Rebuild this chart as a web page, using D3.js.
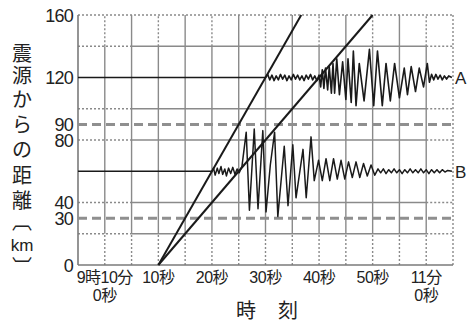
<!DOCTYPE html>
<html>
<head>
<meta charset="utf-8">
<script src="https://cdn.jsdelivr.net/npm/d3@7"></script>
<style>
  html, body { margin: 0; padding: 0; background: #fff; }
  svg { display: block; }
</style>
</head>
<body>
<svg id="chart" width="469" height="324"></svg>
<script>
// time in seconds after 9:10:00, distance in km
const xTicks = [0, 10, 20, 30, 40, 50, 60];
const xTickLabels = [['9時10分', '0秒'], ['10秒'], ['20秒'], ['30秒'], ['40秒'], ['50秒'], ['11分', '0秒']];
const yTicks = [0, 30, 40, 80, 90, 120, 160];
const xGrid = [0, 5, 10, 15, 20, 25, 30, 35, 40, 45, 50, 55, 60];
const yGrid = [20, 40, 80, 100, 140];
const yDashed = [30, 90];

const titleChars = ['震', '源', 'か', 'ら', 'の', '距', '離', '︹', 'km', '︺'];

// travel time lines (P ~6 km/s, S ~4 km/s, origin at 10 s)
const pLine = [[10, 0], [36.67, 160]];
const sLine = [[10, 0], [50, 160]];

// seismograms: [time, offset in km from the station line]
const stationA = 120;
const traceA = [
  [-5, 0], [30, 0],
  [30.4, 2], [30.8, -1.5], [31.2, 1.5], [31.6, -2], [32, 1], [32.4, -1.5], [32.8, 2], [33.2, -1],
  [33.6, 1.5], [34, -2], [34.4, 1], [34.8, -1.5], [35.2, 2], [35.6, -1], [36, 1.5], [36.4, -1.5],
  [36.8, 1], [37.2, -2], [37.6, 1.5], [38, -1], [38.4, 2], [38.8, -1.5], [39.2, 1], [39.6, -2], [40, 1.5],
  [40.3, -6], [40.6, 5], [40.9, -7], [41.2, 6], [41.6, -8], [41.9, 7], [42.3, -10], [42.6, 9],
  [42.9, -10], [43.3, 12], [43.8, -11],
  [44.4, 10], [45.0, -14], [45.4, 12], [46.0, -16], [46.4, 17], [46.9, -18], [47.5, 9], [48.4, -15],
  [49.4, 18], [50.2, -18], [50.9, 17], [51.8, -18], [52.5, 9], [53.3, -15], [54.1, 9], [55.0, -13],
  [55.9, 6], [56.5, -11], [57.2, 7], [58.0, -9], [58.7, 6], [59.5, -6], [60.2, 9], [60.6, -3],
  [61.0, 2], [61.4, -1.5], [61.8, 2], [62.2, -1], [62.6, 1.5], [63, -1.5], [63.4, 1], [63.8, -1],
  [64.2, 1], [64.8, 0]
];

const stationB = 60;
const traceB = [
  [-5, 0], [20, 0],
  [20.3, 2], [20.6, -2.5], [21, 2], [21.3, -1.5], [21.7, 3], [22, -2], [22.4, 1.5], [22.7, -3],
  [23.1, 2], [23.5, -1.5], [23.9, 2.5], [24.3, -2], [24.7, 1.5], [25.1, -1],
  [25.6, 3], [26.4, 25], [27.0, -25], [27.9, 27], [28.6, -24], [29.5, 26], [30.1, -26], [30.9, 4],
  [31.7, 25], [32.3, -29], [33.5, 16], [34.2, -22], [35.1, 17], [35.7, -17], [37.0, 14], [37.6, -17],
  [38.5, 22], [39.1, -6],
  [39.9, 7], [40.6, -6], [41.3, 8], [42, -6], [42.7, 8], [43.4, -5], [44.1, 7], [44.8, -5],
  [45.5, 6], [46.2, -4], [46.9, 6], [47.6, -4], [48.3, 5], [49, -3], [49.7, 4], [50.4, -2.5],
  [51, 1.5], [51.5, -1], [52, 1.5], [52.5, -1.5], [53, 1], [53.5, -1], [54, 1.5], [54.5, -1],
  [55, 1], [55.5, -1.5], [56, 1], [56.5, -1], [57, 1.5], [57.5, -1], [58, 1], [58.5, -1],
  [59, 1.5], [59.5, -1], [60, 1], [60.5, -1.5], [61, 1], [61.5, -1], [62, 1], [62.5, -1],
  [63, 1], [63.5, -0.5], [64, 0.5], [64.8, 0]
];

const x = d3.scaleLinear().domain([-5, 65]).range([78, 453]);
const y = d3.scaleLinear().domain([0, 160]).range([265, 15]);

const svg = d3.select('#chart');
const FONT = '"Liberation Sans", Arial, "Noto Sans CJK JP", sans-serif';
const JP = '"Noto Sans CJK JP", sans-serif';
const GRID = '#8a8a8a';

const grid = svg.append('g');
const seg = (x1, y1, x2, y2, dotted) => grid.append('line')
  .attr('x1', x(x1)).attr('y1', y(y1)).attr('x2', x(x2)).attr('y2', y(y2))
  .attr('stroke', GRID).attr('stroke-width', 1.4)
  .attr('stroke-dasharray', dotted ? '2,2' : null);

// vertical grid: solid in the middle band, dotted near the edges
xGrid.forEach(t => {
  const half = t % 10 !== 0;
  seg(t, 0, t, 20, true);
  seg(t, 20, t, 140, false);
  seg(t, 140, t, 160, !half);
});
// horizontal grid
yGrid.forEach(d => {
  seg(-5, d, 5, d, true);
  seg(5, d, 60, d, false);
  seg(60, d, 65, d, true);
});
// frame: top and right dotted, left and bottom solid
seg(-5, 160, 65, 160, true);
seg(65, 0, 65, 160, true);
grid.append('line').attr('x1', x(-5)).attr('y1', y(0)).attr('x2', x(-5)).attr('y2', y(160))
  .attr('stroke', '#7a7a7a').attr('stroke-width', 1.6);
grid.append('line').attr('x1', x(-5)).attr('y1', y(0)).attr('x2', x(65)).attr('y2', y(0))
  .attr('stroke', '#7a7a7a').attr('stroke-width', 1.6);

svg.append('g').selectAll('line').data(yDashed).enter().append('line')
  .attr('x1', x(-5)).attr('x2', x(65))
  .attr('y1', d => y(d)).attr('y2', d => y(d))
  .attr('stroke', '#8f8f8f').attr('stroke-width', 3)
  .attr('stroke-dasharray', '9,5');

const line = d3.line().x(d => x(d[0])).y(d => y(d[1]));

svg.append('g').selectAll('path').data([pLine, sLine]).enter().append('path')
  .attr('d', line)
  .attr('fill', 'none').attr('stroke', '#1a1a1a').attr('stroke-width', 2);

const traceLine = base => d3.line().x(d => x(d[0])).y(d => y(base + d[1]));
svg.append('path').attr('d', traceLine(stationA)(traceA))
  .attr('fill', 'none').attr('stroke', '#1a1a1a').attr('stroke-width', 1.6)
  .attr('stroke-linejoin', 'round');
svg.append('path').attr('d', traceLine(stationB)(traceB))
  .attr('fill', 'none').attr('stroke', '#1a1a1a').attr('stroke-width', 1.5)
  .attr('stroke-linejoin', 'round');

svg.append('text').attr('x', 455).attr('y', y(stationA) + 6.5).text('A')
  .attr('font-family', FONT).attr('font-size', 17).attr('fill', '#222');
svg.append('text').attr('x', 455).attr('y', y(stationB) + 6.5).text('B')
  .attr('font-family', FONT).attr('font-size', 17).attr('fill', '#222');

// y tick labels
svg.append('g').selectAll('text').data(yTicks).enter().append('text')
  .attr('x', 73).attr('y', d => y(d) + 6.5)
  .attr('text-anchor', 'end')
  .attr('font-family', FONT).attr('font-size', 18).attr('letter-spacing', -0.8)
  .attr('fill', '#222')
  .text(d => d);

// x tick labels
const xl = svg.append('g').selectAll('text').data(xTicks).enter().append('text')
  .attr('text-anchor', 'middle')
  .attr('font-family', FONT).attr('font-size', 16).attr('letter-spacing', -0.5)
  .attr('fill', '#222');
xl.each(function (d, i) {
  const el = d3.select(this);
  xTickLabels[i].forEach((s, k) => {
    el.append('tspan').attr('x', x(d)).attr('y', 283 + k * 18).text(s);
  });
});

// axis titles
svg.append('text').attr('x', 246).attr('y', 318).attr('text-anchor', 'middle')
  .attr('font-family', JP).attr('font-size', 20).attr('fill', '#222').text('時');
svg.append('text').attr('x', 288).attr('y', 318).attr('text-anchor', 'middle')
  .attr('font-family', JP).attr('font-size', 20).attr('fill', '#222').text('刻');

const titleY = [52, 74, 98, 123, 148, 174, 199, 220, 245, 266];
svg.append('g').selectAll('text').data(titleChars).enter().append('text')
  .attr('x', 22).attr('y', (d, i) => titleY[i])
  .attr('text-anchor', 'middle').attr('dominant-baseline', 'central')
  .attr('font-family', (d) => d === 'km' ? FONT : JP)
  .attr('font-size', (d) => d === 'km' ? 17 : 20)
  .attr('fill', '#222')
  .text(d => d);
</script>
</body>
</html>
